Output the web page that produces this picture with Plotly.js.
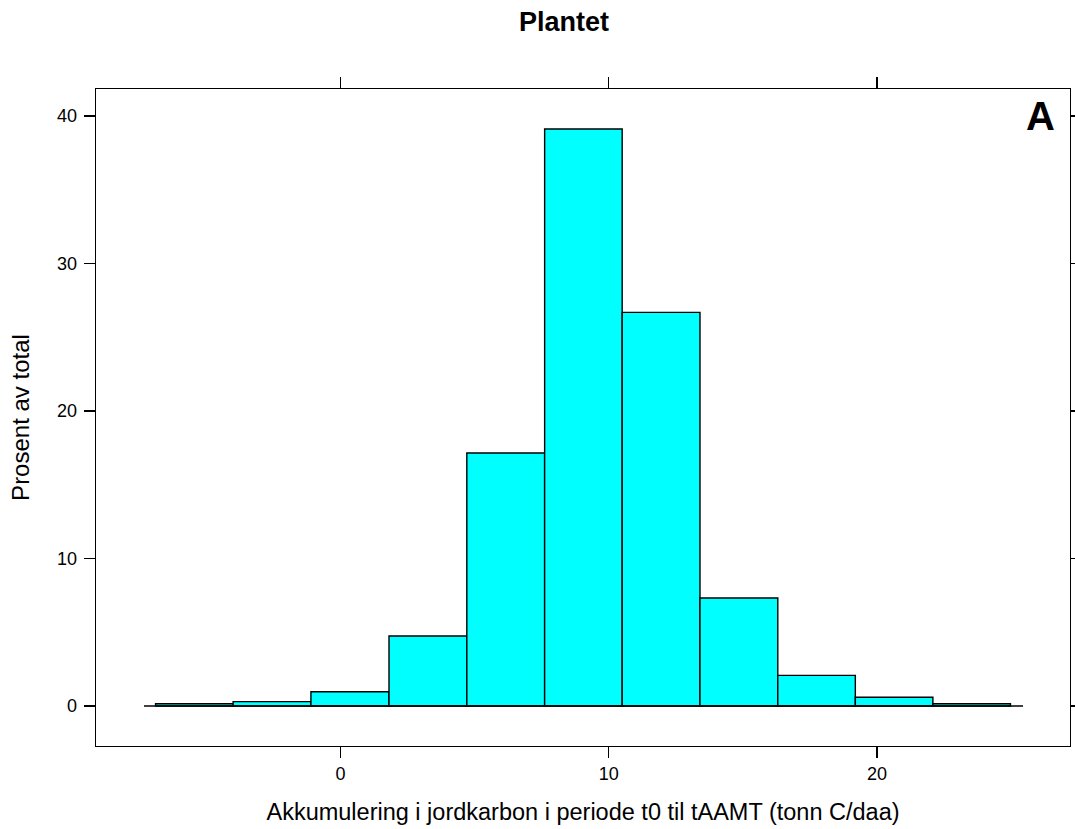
<!DOCTYPE html>
<html>
<head>
<meta charset="utf-8">
<script src="https://cdn.plot.ly/plotly-3.0.1.min.js"></script>
<style>html,body{margin:0;padding:0;background:#fff;}#chart{width:1075px;height:829px;}</style>
</head>
<body>
<div id="chart"></div>
<script>
// Histogram bin edges (tonn C/daa) and percent of total per bin
var binEdges = [-6.89, -4.0, -1.1, 1.81, 4.71, 7.61, 10.5, 13.4, 16.3, 19.19, 22.08, 24.97];
var percentOfTotal = [0.15, 0.3, 0.97, 4.75, 17.15, 39.12, 26.69, 7.32, 2.08, 0.59, 0.15];
var baselineRange = [-7.32, 25.44];
var xTickVals = [0, 10, 20];
var yTickVals = [0, 10, 20, 30, 40];
var titleText = "Plantet";
var xTitleText = "Akkumulering i jordkarbon i periode t0 til tAAMT (tonn C/daa)";
var yTitleText = "Prosent av total";
var panelLabel = "A";

var lefts = binEdges.slice(0, -1);
var widths = lefts.map(function (v, i) { return binEdges[i + 1] - v; });

var traces = [
  {
    type: "scatter", mode: "lines",
    x: baselineRange, y: [0, 0],
    line: {color: "#000", width: 1.4},
    hoverinfo: "skip", showlegend: false
  },
  {
    type: "bar",
    x: lefts, y: percentOfTotal,
    offset: 0, width: widths,
    marker: {color: "#00FFFF", line: {color: "#000", width: 1.4}},
    showlegend: false
  }
];

var font = "Liberation Sans, Arial, sans-serif";
var layout = {
  width: 1075, height: 829,
  paper_bgcolor: "#fff", plot_bgcolor: "#fff",
  margin: {l: 96, r: 5, t: 89, b: 83, pad: 0},
  font: {family: font, color: "#000", size: 18},
  title: {
    text: "<b>" + titleText + "</b>",
    font: {family: font, size: 27, color: "#000"},
    xref: "paper", x: (564 - 96) / (1070 - 96), xanchor: "center",
    yref: "container", y: 1 - 22 / 829, yanchor: "middle"
  },
  xaxis: {
    range: [-9.11, 27.19],
    tickvals: xTickVals, ticktext: xTickVals.map(String),
    ticks: "outside", ticklen: 11, tickwidth: 1.3, tickcolor: "#000",
    showline: true, linecolor: "#000", linewidth: 1.3, mirror: "ticks",
    showgrid: false, zeroline: false,
    tickfont: {size: 18},
    title: {text: xTitleText, font: {size: 23.5}, standoff: 20}
  },
  yaxis: {
    range: [-2.71, 41.83],
    tickvals: yTickVals, ticktext: yTickVals.map(String),
    ticks: "outside", ticklen: 11, tickwidth: 1.3, tickcolor: "#000",
    showline: true, linecolor: "#000", linewidth: 1.3, mirror: "ticks",
    showgrid: false, zeroline: false,
    ticklabelstandoff: 3,
    tickfont: {size: 18},
    title: {text: yTitleText, font: {size: 24}, standoff: 20}
  },
  annotations: [{
    text: "<b>" + panelLabel + "</b>",
    xref: "paper", yref: "paper", x: (1057 - 96) / (1070 - 96), y: 1 - (116 - 89) / (746 - 89),
    xanchor: "right", yanchor: "middle", showarrow: false,
    font: {family: font, size: 40, color: "#000"}
  }],
  bargap: 0
};

Plotly.newPlot("chart", traces, layout, {displayModeBar: false, staticPlot: true});
</script>
</body>
</html>
